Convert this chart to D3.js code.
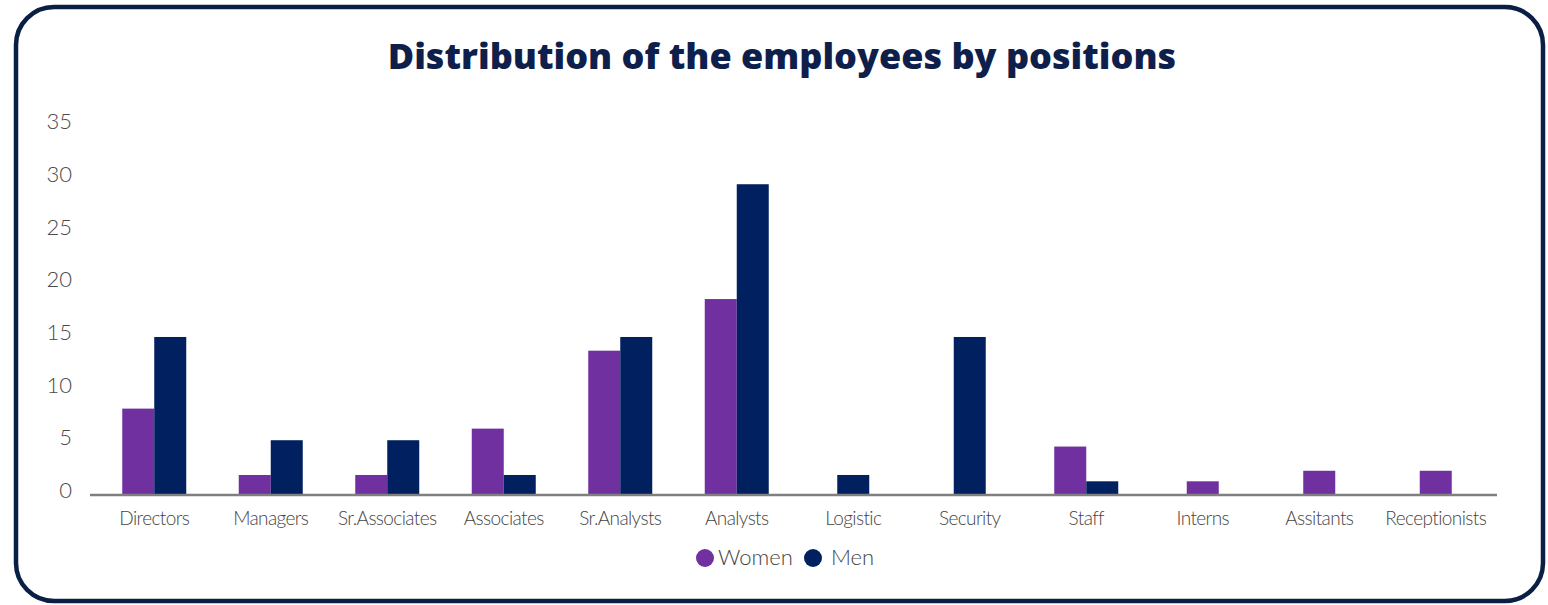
<!DOCTYPE html>
<html>
<head>
<meta charset="utf-8">
<script src="https://cdn.jsdelivr.net/npm/d3@7"></script>
<style>
  body { margin: 0; background: #fff; }
  svg { display: block; }
</style>
</head>
<body>
<div id="chart"></div>
<script>
/*
*    Distribution of the employees by positions
*/

const positions = ["Directors", "Managers", "Sr.Associates", "Associates", "Sr.Analysts", "Analysts",
	"Logistic", "Security", "Staff", "Interns", "Assitants", "Receptionists"];
const women = [8.2, 1.9, 1.9, 6.3, 13.7, 18.6, 0, 0, 4.6, 1.3, 2.3, 2.3];
const men = [15, 5.2, 5.2, 1.9, 15, 29.5, 1.9, 15, 1.3, 0, 0, 0];
const seriesNames = ["Women", "Men"];
const yTicks = [0, 5, 10, 15, 20, 25, 30, 35];

const width = 1548;
const height = 605;

const svg = d3.select("#chart")
	.append("svg")
	.attr("width", width)
	.attr("height", height);

// frame
svg.append("rect")
	.attr("x", 16)
	.attr("y", 7)
	.attr("width", 1527)
	.attr("height", 594)
	.attr("rx", 38)
	.attr("fill", "#fff")
	.attr("stroke", "#0b1f45")
	.attr("stroke-width", 4.5);

// title
svg.append("text")
	.attr("x", 782)
	.attr("y", 69)
	.attr("text-anchor", "middle")
	.style("font-family", "'Open Sans', sans-serif")
	.style("font-weight", "800")
	.style("font-size", "36px")
	.style("fill", "#0f1f4b")
	.text("Distribution of the employees by positions");

// scales
const x = d3.scaleBand()
	.domain(positions)
	.range([96, 1494]);

const y = d3.scaleLinear()
	.domain([0, 35])
	.range([495, 126.3]);

const color = d3.scaleOrdinal()
	.domain(seriesNames)
	.range(["#7030a0", "#002060"]);

const barWidth = 32;

// only the non-empty series are drawn, centred on the category
const data = positions.map((p, i) => ({
	name: p,
	values: [
		{ key: "Women", value: women[i] },
		{ key: "Men", value: men[i] }
	].filter(d => d.value > 0)
}));

// bars
const groups = svg.append("g")
	.selectAll("g")
	.data(data)
	.enter()
	.append("g")
	.attr("transform", d => `translate(${x(d.name) + x.bandwidth() / 2 - d.values.length * barWidth / 2},0)`);

groups.selectAll("rect")
	.data(d => d.values)
	.enter()
	.append("rect")
	.attr("x", (d, i) => i * barWidth)
	.attr("y", d => y(d.value))
	.attr("width", barWidth)
	.attr("height", d => y(0) - y(d.value))
	.attr("fill", d => color(d.key));

// baseline
svg.append("line")
	.attr("x1", 90)
	.attr("x2", 1497)
	.attr("y1", y(0))
	.attr("y2", y(0))
	.attr("stroke", "#7f7f7f")
	.attr("stroke-width", 2.5);

// y labels
svg.append("g")
	.selectAll("text")
	.data(yTicks)
	.enter()
	.append("text")
	.attr("x", 72)
	.attr("y", d => y(d) + 3)
	.attr("text-anchor", "end")
	.style("font-family", "Lato, sans-serif")
	.style("font-weight", "300")
	.style("font-size", "22px")
	.style("fill", "#4a4a4a")
	.text(d => d);

// x labels
svg.append("g")
	.selectAll("text")
	.data(data)
	.enter()
	.append("text")
	.attr("x", d => x(d.name) + x.bandwidth() / 2)
	.attr("y", 525)
	.attr("text-anchor", "middle")
	.style("font-family", "Lato, sans-serif")
	.style("font-weight", "300")
	.style("font-size", "19px")
	.style("letter-spacing", "-0.6px")
	.style("fill", "#444")
	.text(d => d.name);

// legend
const legend = svg.append("g")
	.attr("transform", "translate(705, 558)");

const legendX = [0, 108];

const legendItem = legend.selectAll("g")
	.data(seriesNames)
	.enter()
	.append("g")
	.attr("transform", (d, i) => `translate(${legendX[i]},0)`);

legendItem.append("circle")
	.attr("r", 9)
	.attr("fill", d => color(d));

legendItem.append("text")
	.attr("x", (d, i) => i === 0 ? 13 : 18)
	.attr("y", 7)
	.style("font-family", "Lato, sans-serif")
	.style("font-weight", "300")
	.style("font-size", "22px")
	.style("fill", "#444")
	.text(d => d);
</script>
</body>
</html>
